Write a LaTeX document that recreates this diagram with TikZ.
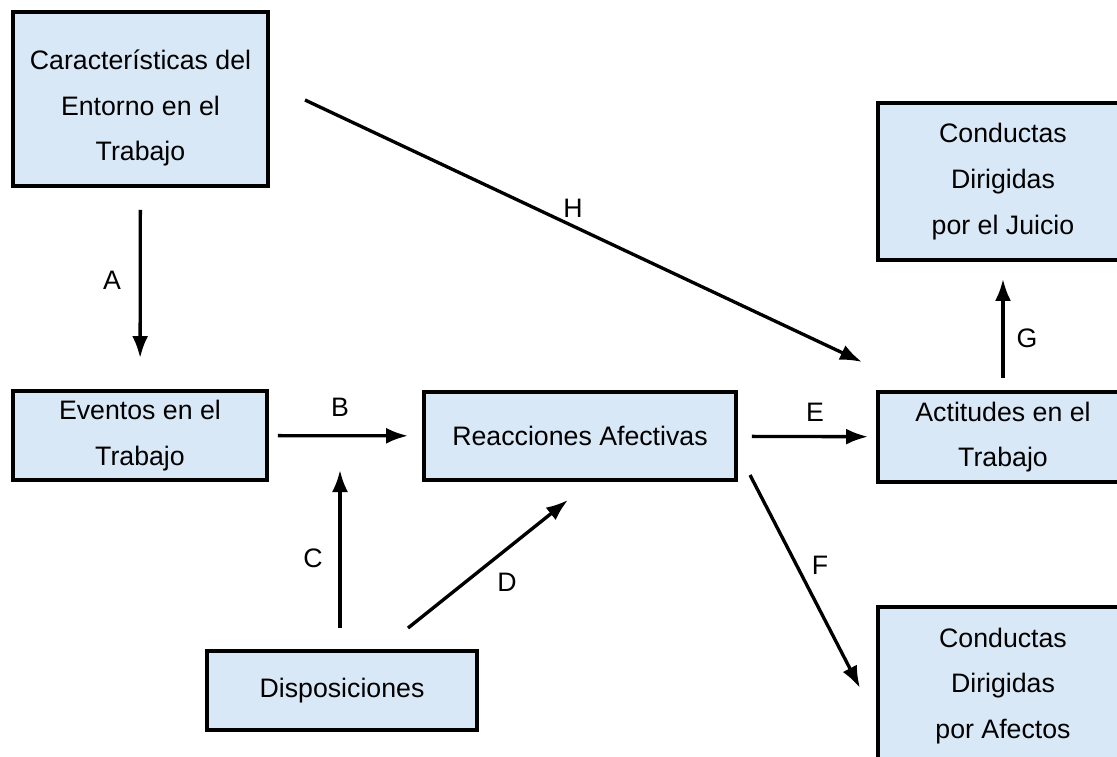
\documentclass[tikz,border=0pt]{standalone}
\usepackage{fontspec}
\setmainfont{Liberation Sans}
\usetikzlibrary{arrows.meta, positioning, calc}

\definecolor{boxblue}{RGB}{217,232,246}

\tikzset{
	caja/.style={draw, line width=2.2pt, fill=boxblue, align=center, inner sep=0pt,
		font=\fontsize{15.2}{26}\selectfont},
	flecha/.style={line width=1.9pt, -{Latex[length=4.4mm, width=3.2mm]}},
	etiq/.style={font=\fontsize{15.2}{18}\selectfont}
}

\begin{document}
\begin{tikzpicture}
	\useasboundingbox (0,0) rectangle (22.34,-15.12);
	\clip (0,0) rectangle (22.34,-15.12);

	% cajas
	\node[caja, minimum width=5.1cm, minimum height=3.48cm] (ent) at (2.81,-1.98) {\\[-0.16cm]Características del\\Entorno en el\\Trabajo};
	\node[caja, minimum width=5.08cm, minimum height=1.78cm] (ev) at (2.8,-8.71) {Eventos en el\\Trabajo};
	\node[caja, minimum width=6.24cm, minimum height=1.76cm] (reac) at (11.6,-8.72) {Reacciones  Afectivas};
	\node[caja, minimum width=5.4cm, minimum height=1.58cm] (disp) at (6.84,-13.81) {Disposiciones};
	\node[caja, minimum width=5.0cm, minimum height=1.8cm] (act) at (20.06,-8.74) {Actitudes en el\\Trabajo};
	\node[caja, minimum width=5.0cm, minimum height=3.14cm] (juic) at (20.06,-3.63) {Conductas\\Dirigidas\\por el Juicio};
	\node[caja, minimum width=5.0cm, minimum height=3.16cm] (afec) at (20.06,-13.72) {Conductas\\Dirigidas\\por Afectos};

	% extremos libres
	\coordinate (h1) at (6.1,-2.0);
	\coordinate (h2) at (17.24,-7.24);
	\coordinate (c1) at (6.8,-12.56);
	\coordinate (c2) at (6.8,-9.4);
	\coordinate (d1) at (8.16,-12.56);
	\coordinate (d2) at (11.36,-10.0);
	\coordinate (f1) at (15.0,-9.5);
	\coordinate (f2) at (17.2,-13.76);

	% flechas
	\draw[flecha, shorten <=0.44cm, shorten >=0.62cm] (ent) -- (ev);
	\draw[flecha, shorten <=0.18cm, shorten >=0.28cm] (ev) -- (reac);
	\draw[flecha, shorten <=0.28cm, shorten >=0.16cm] (reac) -- (act);
	\draw[flecha, shorten <=0.24cm, shorten >=0.34cm] (act) -- (juic);
	\draw[flecha] (h1) -- (h2);
	\draw[flecha] (c1) -- (c2);
	\draw[flecha] (d1) -- (d2);
	\draw[flecha] (f1) -- (f2);

	% etiquetas
	\node[etiq] (la) at (2.24,-5.6) {A};
	\node[etiq] (lb) at (6.8,-8.14) {B};
	\node[etiq] (lc) at (6.26,-11.16) {C};
	\node[etiq] (ld) at (10.14,-11.64) {D};
	\node[etiq] (le) at (16.3,-8.24) {E};
	\node[etiq] (lf) at (16.4,-11.3) {F};
	\node[etiq] (lg) at (20.54,-6.76) {G};
	\node[etiq] (lh) at (11.46,-4.16) {H};
\end{tikzpicture}
\end{document}
